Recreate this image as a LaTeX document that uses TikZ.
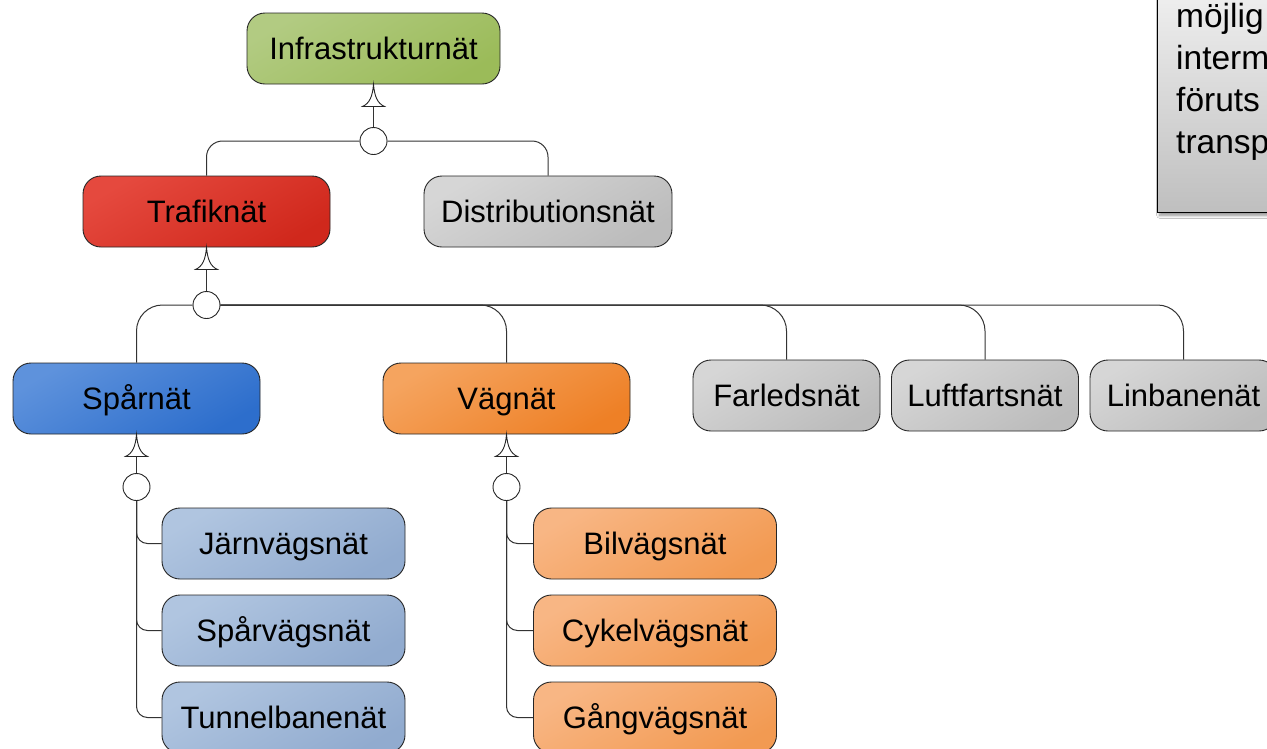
\documentclass[tikz,border=0pt]{standalone}
\usepackage{fontspec}
\setmainfont{Liberation Sans}
\usetikzlibrary{shadows.blur}
\definecolor{grnA}{HTML}{B2CB82}\definecolor{grnB}{HTML}{9BBB59}
\definecolor{redA}{HTML}{E5493E}\definecolor{redB}{HTML}{D0281C}
\definecolor{gryA}{HTML}{D6D6D6}\definecolor{gryB}{HTML}{BCBCBC}
\definecolor{bluA}{HTML}{5E92DC}\definecolor{bluB}{HTML}{2D6ECC}
\definecolor{orgA}{HTML}{F5A45F}\definecolor{orgB}{HTML}{EE8026}
\definecolor{lbuA}{HTML}{B0C5E0}\definecolor{lbuB}{HTML}{91ABCF}
\definecolor{lorA}{HTML}{F8B684}\definecolor{lorB}{HTML}{F29A52}
\definecolor{ntA}{HTML}{F0F0F0}\definecolor{ntB}{HTML}{BFBFBF}
\begin{document}
\begin{tikzpicture}[x=1pt,y=-1pt,
  box/.style={draw=black!85, line width=0.9pt, rounded corners=18pt,
    minimum height=71pt, inner sep=0pt, text=black, text height=25pt, text depth=3pt,
    font=\fontsize{31}{37}\selectfont},
  wd/.style={minimum width=#1},
  shade2/.style 2 args={top color=#1, bottom color=#2, shading angle=30},
  junc/.style={circle, draw=black!85, fill=white, line width=0.9pt,
    minimum size=27pt, inner sep=0pt},
  conn/.style={draw=black!80, line width=1pt},
  notebox/.style={draw=black, line width=1.4pt, top color=ntA, bottom color=ntB,
    blur shadow={shadow xshift=2pt, shadow yshift=-3pt, shadow blur radius=3pt, shadow opacity=45}},
  notetext/.style={anchor=base west, inner sep=0pt, text=black,
    font=\fontsize{33.5}{40}\selectfont},
  genhead/.pic={\draw[draw=black!85, fill=white, line width=0.9pt]
    (0,0) .. controls (-1,12) and (-4,19) .. (-11,22) -- (11,22)
    .. controls (4,19) and (1,12) .. (0,0) -- cycle;}
]
\useasboundingbox (0,0) rectangle (1267,748);
\fill[white] (0,0) rectangle (1267,748);

% note box (top right, partly outside)
\node[notebox, minimum width=140pt, minimum height=225pt, anchor=south west, inner sep=0pt]
  (note) at (1157,213) {};
\node[notetext] (l1) at (1176,27) {möjlig};
\node[notetext] (l2) at (1176,69) {interm};
\node[notetext] (l3) at (1176,111) {föruts};
\node[notetext] (l4) at (1176,153) {transp};

% boxes
\node[box, wd=253pt, shade2={grnA}{grnB}] (infra) at (373.5,48.5) {Infrastrukturnät};
\node[box, wd=247pt, shade2={redA}{redB}] (trafik) at (206.5,211.5) {Trafiknät};
\node[box, wd=248pt, shade2={gryA}{gryB}] (distr) at (548,211.5) {Distributionsnät};
\node[box, wd=247pt, shade2={bluA}{bluB}] (spar) at (136.5,398.5) {Spårnät};
\node[box, wd=247pt, shade2={orgA}{orgB}] (vag) at (506.5,398.5) {Vägnät};
\node[box, wd=187pt, shade2={gryA}{gryB}] (farled) at (786.5,395.5) {Farledsnät};
\node[box, wd=187pt, shade2={gryA}{gryB}] (luft) at (985,395.5) {Luftfartsnät};
\node[box, wd=187pt, shade2={gryA}{gryB}] (linb) at (1183.5,395.5) {Linbanenät};
\node[box, wd=243pt, shade2={lbuA}{lbuB}] (jarn) at (283.5,543.5) {Järnvägsnät};
\node[box, wd=243pt, shade2={lbuA}{lbuB}] (sparv) at (283.5,630.5) {Spårvägsnät};
\node[box, wd=243pt, shade2={lbuA}{lbuB}] (tunn) at (283.5,717.5) {Tunnelbanenät};
\node[box, wd=243pt, shade2={lorA}{lorB}] (bil) at (655,543.5) {Bilvägsnät};
\node[box, wd=243pt, shade2={lorA}{lorB}] (cyk) at (655,630.5) {Cykelvägsnät};
\node[box, wd=243pt, shade2={lorA}{lorB}] (gang) at (655,717.5) {Gångvägsnät};

% junctions
\node[junc] (c1) at (373.5,141) {};
\node[junc] (c2) at (206.5,305) {};
\node[junc] (c3) at (136.5,487) {};
\node[junc] (c4) at (506.5,487) {};

% connectors
\draw[conn] (c1.north) -- (infra.south);
\draw[conn, rounded corners=16pt] (c1.west) -| (trafik.north);
\draw[conn, rounded corners=16pt] (c1.east) -| (distr.north);

\draw[conn] (c2.north) -- (trafik.south);
\draw[conn, rounded corners=26pt] (c2.west) -| (spar.north);
\draw[conn, rounded corners=26pt] (c2.east) -| (vag.north);
\draw[conn, rounded corners=26pt] (c2.east) -| (farled.north);
\draw[conn, rounded corners=26pt] (c2.east) -| (luft.north);
\draw[conn, rounded corners=26pt] (c2.east) -| (linb.north);

\draw[conn] (c3.north) -- (spar.south);
\draw[conn, rounded corners=11pt] (c3.south) |- (jarn.west);
\draw[conn, rounded corners=11pt] (c3.south) |- (sparv.west);
\draw[conn, rounded corners=11pt] (c3.south) |- (tunn.west);

\draw[conn] (c4.north) -- (vag.south);
\draw[conn, rounded corners=11pt] (c4.south) |- (bil.west);
\draw[conn, rounded corners=11pt] (c4.south) |- (cyk.west);
\draw[conn, rounded corners=11pt] (c4.south) |- (gang.west);

% generalisation heads
\pic at (infra.south) {genhead};
\pic at (trafik.south) {genhead};
\pic at (spar.south) {genhead};
\pic at (vag.south) {genhead};
\end{tikzpicture}
\end{document}
